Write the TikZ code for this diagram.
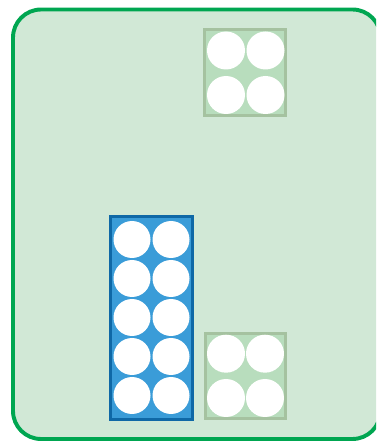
\documentclass[tikz,border=0pt]{standalone}
\definecolor{framegreen}{HTML}{00A651}
\definecolor{bggreen}{HTML}{D1E8D6}
\definecolor{boxgreen}{HTML}{B8DDBD}
\definecolor{edgegreen}{HTML}{A5C2A0}
\definecolor{boxblue}{HTML}{3A9CD8}
\definecolor{edgeblue}{HTML}{0F68A6}
\begin{document}
\begin{tikzpicture}[scale=0.25]
  \useasboundingbox (0,0) rectangle (37.6,44.3);
  \clip (0,0) rectangle (37.6,44.3);
  % outer frame
  \draw[framegreen, fill=bggreen, line width=2.8pt, rounded corners=7mm] (1.3,0.4) rectangle (38.05,43.35);
  % top four frame
  \draw[edgegreen, fill=boxgreen, line width=2.1pt] (20.45,32.75) rectangle (28.55,41.35);
  \foreach \x in {22.6,26.55}
    \foreach \y in {39.25,34.8}
      \fill[white] (\x,\y) circle (1.9);
  % bottom four frame
  \draw[edgegreen, fill=boxgreen, line width=2.1pt] (20.55,2.45) rectangle (28.55,10.95);
  \foreach \x in {22.6,26.5}
    \foreach \y in {8.93,4.5}
      \fill[white] (\x,\y) circle (1.9);
  % ten frame
  \draw[edgeblue, fill=boxblue, line width=2.1pt] (11.05,2.35) rectangle (19.25,22.65);
  \foreach \x in {13.2,17.1}
    \foreach \y in {20.35,16.45,12.55,8.65,4.75}
      \fill[white] (\x,\y) circle (1.85);
\end{tikzpicture}
\end{document}
